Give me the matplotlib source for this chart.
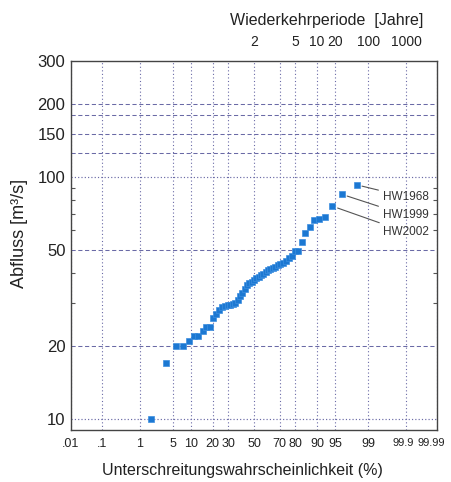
import math
import numpy as np
import matplotlib
matplotlib.use("Agg")
import matplotlib.pyplot as plt
from matplotlib.ticker import NullFormatter, NullLocator
from matplotlib.transforms import ScaledTranslation

plt.rcParams['font.family'] = ['Liberation Sans', 'DejaVu Sans']

# annual flood peaks, sorted ascending [m3/s]
abfluss = [10, 17, 20, 20, 21, 22, 22, 23, 24, 24,
           26, 27, 28.2, 29, 29.3, 29.4, 29.5, 29.7, 30, 30.9,
           32.2, 33.2, 34.5, 35.6, 36.4, 36.8, 37.3, 38, 38.5, 39.3,
           39.8, 40.3, 41, 41.5, 42, 42.5, 43, 43.5, 44, 45,
           46, 47, 49.5, 49.5, 53.5, 58.5, 62, 66.5, 67, 68,
           75.5, 84.5, 92.5]

# labelled events (value, name)
hw_werte = [92.5, 84.5, 75.5]
hw_namen = ['HW1968', 'HW1999', 'HW2002']
hw_text_y = [82.6, 69.4, 59.1]

x_ticks = [0.01, 0.1, 1, 5, 10, 20, 30, 50, 70, 80, 90, 95, 99, 99.9, 99.99]
x_labels = ['.01', '.1', '1', '5', '10', '20', '30', '50', '70', '80', '90', '95', '99', '99.9', '99.99']
jahre = [2, 5, 10, 20, 100, 1000]
y_ticks = [10, 20, 50, 100, 150, 200, 300]
y_minor = [30, 40, 60, 70, 80, 90]
y_dashed = [20, 50, 125, 150, 180, 200]
y_dotted = [10, 100]

# %% normal probability scale (percent <-> z)
A = [-3.969683028665376e+01, 2.209460984245205e+02, -2.759285104469687e+02,
     1.383577518672690e+02, -3.066479806614716e+01, 2.506628277459239e+00]
B = [-5.447609879822406e+01, 1.615858368580409e+02, -1.556989798598866e+02,
     6.680131188771972e+01, -1.328068155288572e+01]
C = [-7.784894002430293e-03, -3.223964580411365e-01, -2.400758277161838e+00,
     -2.549671010115819e+00, 4.374664141464968e+00, 2.938163982698783e+00]
D = [7.784695709041462e-03, 3.224671290700398e-01, 2.445134137142996e+00,
     3.754408661907416e+00]


def _ppf1(p):
    p = min(max(p, 1e-12), 1 - 1e-12)
    if p < 0.02425:
        q = math.sqrt(-2 * math.log(p))
        return (((((C[0]*q+C[1])*q+C[2])*q+C[3])*q+C[4])*q+C[5]) / \
            ((((D[0]*q+D[1])*q+D[2])*q+D[3])*q+1)
    if p > 1 - 0.02425:
        return -_ppf1(1 - p)
    q = p - 0.5
    r = q*q
    return (((((A[0]*r+A[1])*r+A[2])*r+A[3])*r+A[4])*r+A[5])*q / \
        (((((B[0]*r+B[1])*r+B[2])*r+B[3])*r+B[4])*r+1)


def vorwaerts(pct):
    pct = np.asarray(pct, dtype=float)
    return np.vectorize(_ppf1, otypes=[float])(pct / 100.0)


def rueckwaerts(z):
    z = np.asarray(z, dtype=float)
    return 50.0 * (1 + np.vectorize(math.erf, otypes=[float])(z / math.sqrt(2)))


# Weibull plotting positions
n = len(abfluss)
p_unter = [100.0 * i / (n + 1) for i in range(1, n + 1)]
p_top = [100.0 * (1 - 1.0 / t) for t in jahre]

# %%
gridc = '#6a6aa6'
fig = plt.figure(figsize=(4.52, 4.82), dpi=100)
ax = fig.add_axes([71/452, 1-430/482, 366/452, 369/482])
ax.set_xscale('function', functions=(vorwaerts, rueckwaerts))
ax.set_yscale('log')
ax.set_xlim(0.01, 99.99)
ax.set_ylim(9, 300)

for v in y_dashed:
    ax.axhline(v, color=gridc, lw=0.75, ls=(0, (4, 2.5)), zorder=1)
for v in y_dotted:
    ax.axhline(v, color=gridc, lw=0.85, ls=(0, (1, 1.8)), zorder=1)

ax.set_xticks(x_ticks, x_labels)
ax.xaxis.set_minor_locator(NullLocator())
ax.grid(axis='x', color=gridc, lw=0.8, ls=(0, (1, 2.2)), zorder=1)

ax.set_yticks(y_ticks, [str(v) for v in y_ticks])
ax.set_yticks(y_minor, minor=True)
ax.yaxis.set_minor_formatter(NullFormatter())
ax.tick_params(axis='both', which='major', length=0, colors='#222222')
ax.tick_params(axis='x', labelsize=9, pad=6)
ax.tick_params(axis='y', labelsize=12, pad=4)
ax.tick_params(axis='y', which='minor', direction='in', length=3,
               width=0.8, color='#555555', left=True, right=True)
# the two right-most labels are squeezed in as in the original
lbls = ax.get_xticklabels()
for lbl, dx in ((lbls[-2], -3), (lbls[-1], -6)):
    lbl.set_fontsize(8)
    lbl.set_transform(lbl.get_transform()
                      + ScaledTranslation(dx / 100, 0, fig.dpi_scale_trans))

ax.plot(p_unter, abfluss, ls='none', marker='s', ms=5, color='#1c78d2',
        mec='#3c8ee0', mew=0.5, zorder=5)

for wert, name, ty in zip(hw_werte, hw_namen, hw_text_y):
    px = p_unter[abfluss.index(wert)]
    ax.annotate(name, xy=(px, wert), xytext=(99.55, ty), fontsize=8.5,
                color='#333333', ha='left', va='center',
                arrowprops=dict(arrowstyle='-', color='#555555', lw=0.8,
                                shrinkA=1, shrinkB=4))

for s in ax.spines.values():
    s.set_color('#444444')
    s.set_linewidth(1.0)

ax2 = ax.twiny()
ax2.set_xscale('function', functions=(vorwaerts, rueckwaerts))
ax2.set_xlim(ax.get_xlim())
ax2.set_xticks(p_top, [str(t) for t in jahre])
ax2.xaxis.set_minor_locator(NullLocator())
ax2.tick_params(axis='x', length=0, labelsize=10, pad=9, colors='#222222')
for s in ax2.spines.values():
    s.set_visible(False)

fig.text(327/452, 1-21/482, 'Wiederkehrperiode  [Jahre]', fontsize=11.5,
         ha='center', va='center', color='#222222')
fig.text(242/452, 1-471/482, 'Unterschreitungswahrscheinlichkeit (%)',
         fontsize=11.5, ha='center', va='center', color='#222222')
fig.text(20/452, 1-233/482, 'Abfluss [m³/s]', fontsize=13, rotation=90,
         ha='center', va='center', color='#222222')

fig.savefig('out.png', dpi=100)
